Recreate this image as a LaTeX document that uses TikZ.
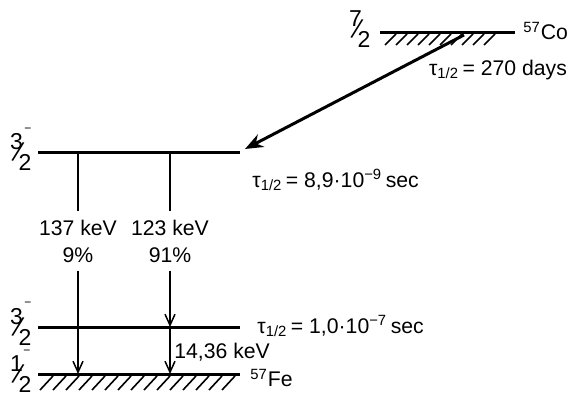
\documentclass[tikz,border=0pt]{standalone}
\usepackage{graphicx}
\usepackage{fontspec}
\setmainfont{Liberation Sans}
\usetikzlibrary{arrows.meta}
% spin fraction: #1 name, #2,#3 slash centre, #4 numerator, #5 denominator
\newcommand{\spinfrac}[5]{%
  \node[digit] (#1n) at ({#2-1.5},{#3-10}) {#4};
  \node[slashglyph] (#1s) at (#2,#3) {\scalebox{1}[1.3]{/}};
  \node[digit] (#1d) at ({#2+7},{#3+10}) {#5};}

\begin{document}
\begin{tikzpicture}[x=0.5pt,y=-0.5pt,font=\fontsize{10.6}{13.5}\selectfont,
  level/.style={line width=1.5pt},
  hatch/.style={line width=0.8pt},
  trans/.style={-{Straight Barb[length=5.5pt,width=5pt]},line width=0.75pt},
  lbl/.style={inner sep=1pt},
  digit/.style={inner sep=0pt,font=\fontsize{11.5}{11.5}\selectfont},
  slashglyph/.style={inner sep=0pt,rotate=-20,font=\fontsize{11}{11}\selectfont},
  par/.style={inner sep=0pt,font=\fontsize{6}{7}\selectfont}]
  \useasboundingbox (0,0) rectangle (571,394);
  % 57Co level
  \coordinate (coL) at (380,33); \coordinate (coR) at (515,33);
  \draw[level] (coL)--(coR);
  \foreach \x in {385,396,...,490} \draw[hatch] (\x,45)--(\x+11,34);
  \spinfrac{co72}{357}{29}{7}{2}
  \node[lbl,anchor=west] (co) at (521,31) {\textsuperscript{57}Co};
  \node[lbl] (tau270) at (498,70) {τ\textsubscript{1/2}\,= 270 days};
  \coordinate (ec) at (464,35);
  % 57Fe excited 3/2 level
  \coordinate (lvAL) at (38,153); \coordinate (lvAR) at (240,153);
  \draw[level] (lvAL)--(lvAR);
  \spinfrac{fr32a}{18}{152}{3}{2}
  \node[par] (ma) at (28,130) {−};
  \node[lbl,anchor=west] (tau89) at (250,180) {τ\textsubscript{1/2}\,= 8,9·10\textsuperscript{−9}\,sec};
  \coordinate (ecend) at (245,149);
  \draw[line width=1.5pt,-{Stealth[length=9pt,width=7pt]}] (ec)--(ecend);
  % 14.4 keV level
  \coordinate (lvBL) at (38,327); \coordinate (lvBR) at (240,327);
  \draw[level] (lvBL)--(lvBR);
  \spinfrac{fr32b}{18}{327}{3}{2}
  \node[par] (mb) at (28,304) {−};
  \node[lbl,anchor=west] (tau10) at (255,326) {τ\textsubscript{1/2}\,= 1,0·10\textsuperscript{−7}\,sec};
  % ground level
  \coordinate (lvGL) at (38,374); \coordinate (lvGR) at (240,374);
  \draw[level] (lvGL)--(lvGR);
  \foreach \x in {40,53,...,222} \draw[hatch] (\x,390)--(\x+13,376);
  \spinfrac{fr12}{18}{374}{1}{2}
  \node[par] (mg) at (27,352) {−};
  \node[lbl,anchor=west] (fe) at (248,378) {\textsuperscript{57}Fe};
  % transitions
  \coordinate (tA) at (78,153); \coordinate (tB) at (170,153);
  \coordinate (mB) at (170,327);
  \coordinate (gA) at (78,374); \coordinate (gB) at (170,374);
  \node[align=center,inner sep=4pt] (g137) at (78,241) {137 keV\\9\%};
  \node[align=center,inner sep=4pt] (g123) at (170,241) {123 keV\\91\%};
  \draw[line width=0.75pt] (tA)--(g137);
  \draw[trans] (g137)--(gA);
  \draw[line width=0.75pt] (tB)--(g123);
  \draw[trans] (g123)--(mB);
  \draw[trans] (mB)--(gB);
  \node[lbl,anchor=west] (k1436) at (172,352) {14,36 keV};
\end{tikzpicture}
\end{document}
